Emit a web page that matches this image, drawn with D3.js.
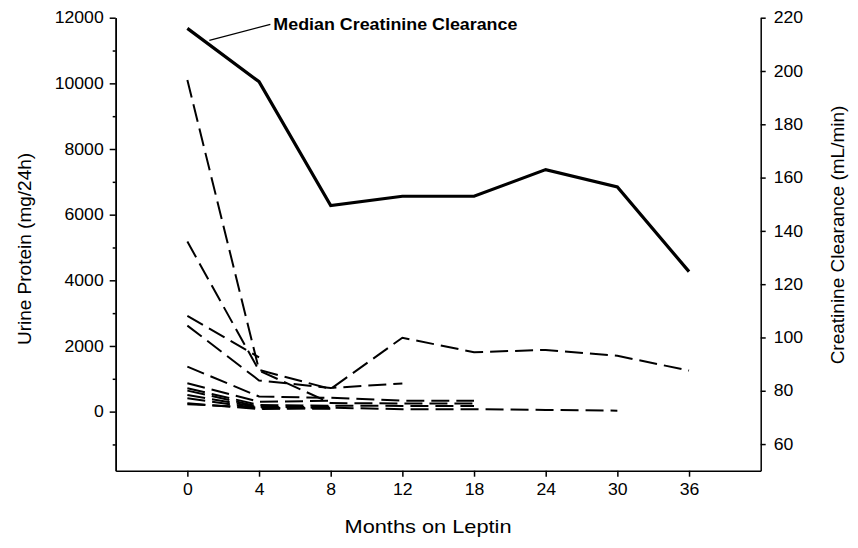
<!DOCTYPE html>
<meta charset="utf-8">
<style>
body {
    margin: 0;
    background: #fff;
}

.chart text {
    font-family: "Liberation Sans", Arial, sans-serif;
    fill: #000;
}

.chart .axis path,
.chart .axis line {
    stroke: #000;
    stroke-width: 1.5;
}

.chart .axis text {
    font-size: 16px;
}

.chart .title {
    font-size: 19px;
}

.chart .protein {
    fill: none;
    stroke: #000;
    stroke-width: 2;
    stroke-dasharray: 18, 7;
}

.chart .clearance {
    fill: none;
    stroke: #000;
    stroke-width: 3.2;
    stroke-linejoin: miter;
}
</style>
<body>

<svg class="chart js-chart"></svg>

<script src="https://cdn.jsdelivr.net/npm/d3@7"></script>
<script type="text/javascript">
"use strict";

// months on leptin (categorical x)
var months = ["0", "4", "8", "12", "18", "24", "30", "36"];

// median creatinine clearance, mL/min (right axis)
var medianClearance = [216, 196, 149.5, 153, 153, 163, 156.5, 124.7];

// urine protein per patient, mg/24h (left axis)
var patient1 = [10100, 1270, 690, 2250, 1810, 1880, 1700, 1250];
var patient2 = [5180, 1250, 260, 250, 250];
var patient3 = [2920, 1650];
var patient4 = [2620, 950, 720, 860];
var patient5 = [1370, 460, 420, 335, 330];
var patient6 = [865, 300, 330];
var patient7 = [713, 200, 180, 174, 170];
var patient8 = [640, 150, 120, 73, 73, 52, 30];
var patient9 = [509, 130, 150];
var patient10 = [408, 100, 110];
var patient11 = [256, 80, 100];
var patient12 = [225, 120, 90];

var proteinSeries = [patient1, patient2, patient3, patient4, patient5, patient6,
    patient7, patient8, patient9, patient10, patient11, patient12];

var leftTicks = [0, 2000, 4000, 6000, 8000, 10000, 12000];
var leftMinorTicks = [-1000, 1000, 3000, 5000, 7000, 9000, 11000];
var rightTicks = [60, 80, 100, 120, 140, 160, 180, 200, 220];

var width = 858,
    height = 548,
    plotLeft = 115.7,
    plotRight = 760.7,
    plotTop = 17.7,
    plotBottom = 470.7,
    digitWidth = 9.8;

var svg = d3.select(".js-chart")
    .attr("width", width)
    .attr("height", height);

var x = d3.scalePoint()
    .domain(months)
    .range([plotLeft, plotRight])
    .padding(1);

var yProtein = d3.scaleLinear()
    .domain([-1800, 12000])
    .range([plotBottom, plotTop]);

var yClearance = d3.scaleLinear()
    .domain([50, 220])
    .range([plotBottom, plotTop]);

// axes
svg.append("g")
    .attr("class", "axis")
    .attr("transform", "translate(" + plotLeft + ",0)")
    .call(d3.axisLeft(yProtein).tickValues(leftMinorTicks).tickSize(3).tickSizeOuter(0).tickFormat(""));

svg.append("g")
    .attr("class", "axis")
    .attr("transform", "translate(" + plotLeft + ",0)")
    .call(d3.axisLeft(yProtein).tickValues(leftTicks).tickSize(6).tickPadding(6).tickSizeOuter(0).tickFormat(d3.format("d")));

svg.append("g")
    .attr("class", "axis")
    .attr("transform", "translate(" + plotRight + ",0)")
    .call(d3.axisRight(yClearance).tickValues(rightTicks).tickSize(5).tickPadding(8).tickSizeOuter(0));

svg.append("g")
    .attr("class", "axis")
    .attr("transform", "translate(0," + plotBottom + ")")
    .call(d3.axisBottom(x).tickSize(6).tickPadding(7).tickSizeOuter(0));

svg.selectAll(".axis .domain").attr("stroke-width", 2);

// the source figure is a little wider than tall, so stretch tick digits
svg.selectAll(".axis .tick text")
    .filter(function() { return this.textContent !== ""; })
    .attr("textLength", function() { return this.textContent.length * digitWidth; })
    .attr("lengthAdjust", "spacingAndGlyphs");

// titles
svg.append("text")
    .attr("class", "title")
    .attr("transform", "translate(31,249) rotate(-90)")
    .attr("text-anchor", "middle")
    .text("Urine Protein (mg/24h)");

svg.append("text")
    .attr("class", "title")
    .attr("transform", "translate(844,235) rotate(-90)")
    .attr("text-anchor", "middle")
    .text("Creatinine Clearance (mL/min)");

svg.append("text")
    .attr("class", "title")
    .attr("x", 428)
    .attr("y", 533)
    .attr("text-anchor", "middle")
    .attr("textLength", 167)
    .attr("lengthAdjust", "spacingAndGlyphs")
    .text("Months on Leptin");

// patient protein lines
var proteinLine = d3.line()
    .defined(function(d) { return d != null; })
    .x(function(d, i) { return x(months[i]); })
    .y(function(d) { return yProtein(d); });

svg.append("g")
    .selectAll("path")
    .data(proteinSeries)
    .join("path")
    .attr("class", "protein")
    .attr("d", proteinLine);

// median clearance line
var clearanceLine = d3.line()
    .x(function(d, i) { return x(months[i]); })
    .y(function(d) { return yClearance(d); });

svg.append("path")
    .datum(medianClearance)
    .attr("class", "clearance")
    .attr("d", clearanceLine);

// label with leader line
var labelX = x(months[0]) + 86,
    labelY = yClearance(medianClearance[0]) - 4;

svg.append("line")
    .attr("x1", x(months[0]) + 22)
    .attr("y1", yClearance(medianClearance[0]) + 12)
    .attr("x2", labelX - 3)
    .attr("y2", labelY)
    .attr("stroke", "#000")
    .attr("stroke-width", 1.2);

svg.append("text")
    .attr("x", labelX)
    .attr("y", labelY + 6)
    .attr("font-size", "16px")
    .attr("font-weight", "bold")
    .attr("textLength", 244)
    .attr("lengthAdjust", "spacingAndGlyphs")
    .text("Median Creatinine Clearance");

</script>
</body>
